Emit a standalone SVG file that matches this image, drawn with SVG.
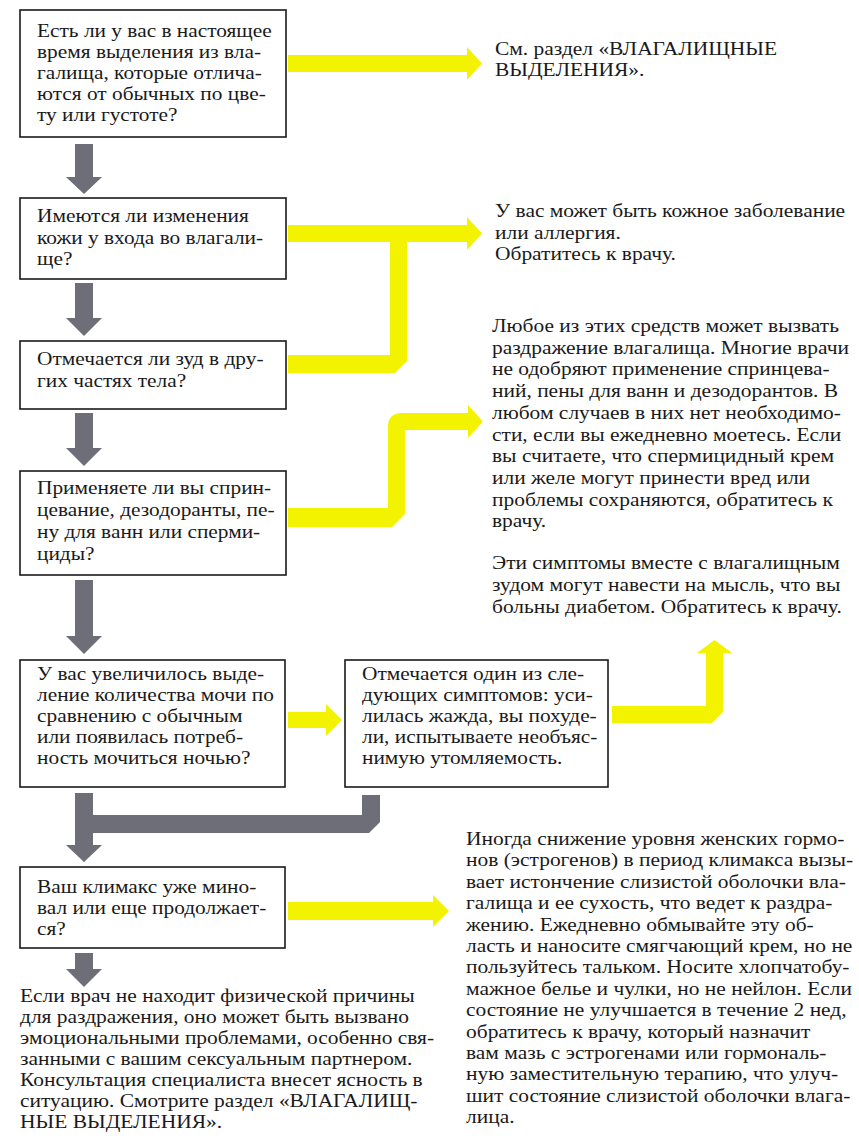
<svg xmlns="http://www.w3.org/2000/svg" width="859" height="1148" viewBox="0 0 859 1148" font-family="Times New Roman, Liberation Serif, serif" font-size="18.5">
<style>
.box{fill:#fff;stroke:#1a1a1a;stroke-width:1.6}
.y{fill:#f3f300}
.g{fill:#6e6e79}
text{fill:#1a1a1a;font-family:"Times New Roman","Liberation Serif",serif}
</style>
<rect width="859" height="1148" fill="#fff"/>
<g id="connectors">
<path class="y" d="M288,55 H467 V47 L482,63.5 L467,80 V72 H288 Z"/>
<path class="y" d="M288,225 H467 V217 L482,233.5 L467,250 V242 H288 Z"/>
<path class="y" d="M288,355 H390 V242 H407 V361 L395,373 H288 Z"/>
<path class="y" d="M288,508 H388 V427 Q388,413 402,413 H468 V405 L483,421.5 L468,438 V430 H405 V514 L392,527 H288 Z"/>
<path class="y" d="M288,712 H326 V704 L342,720 L326,736 V728 H288 Z"/>
<path class="y" d="M612,706 H706 V653 H697 L714.5,640 L732,653 H723 V712 L712,723 H612 Z"/>
<path class="y" d="M288,902 H433 V895 L449,911 L433,927 V920 H288 Z"/>
<path class="g" d="M75,144 H93 V177 H102 L84,194 L66,177 H75 Z"/>
<path class="g" d="M75,283 H93 V318 H102 L84,336 L66,318 H75 Z"/>
<path class="g" d="M75,413 H93 V448 H102 L84,466 L66,448 H75 Z"/>
<path class="g" d="M75,580 H93 V636 H102 L84,654 L66,636 H75 Z"/>
<path class="g" d="M75,793 H93 V845 H102 L84,862 L66,845 H75 Z"/>
<path class="g" d="M93,815 H362 V795 H380 V822 L369,833 H93 Z"/>
<path class="g" d="M75,953 H93 V969 H102 L84,987 L66,969 H75 Z"/>
</g>
<g id="q1">
<rect class="box" x="20" y="10" width="266" height="127"/>
<text transform="translate(37 37) scale(1.155 1)">Есть ли у вас в настоящее</text>
<text transform="translate(37 58) scale(1.155 1)">время выделения из вла-</text>
<text transform="translate(37 79) scale(1.155 1)">галища, которые отлича-</text>
<text transform="translate(37 100) scale(1.155 1)">ются от обычных по цве-</text>
<text transform="translate(37 121) scale(1.155 1)">ту или густоте?</text>
</g>
<g id="a1">
<text transform="translate(495 55) scale(1.16 1)">См. раздел «ВЛАГАЛИЩНЫЕ</text>
<text transform="translate(495 76) scale(1.16 1)">ВЫДЕЛЕНИЯ».</text>
</g>
<g id="q2">
<rect class="box" x="20" y="198" width="266" height="81"/>
<text transform="translate(37 222) scale(1.155 1)">Имеются ли изменения</text>
<text transform="translate(37 243.5) scale(1.155 1)">кожи у входа во влагали-</text>
<text transform="translate(37 265) scale(1.155 1)">ще?</text>
</g>
<g id="a2">
<text transform="translate(495 217) scale(1.16 1)">У вас может быть кожное заболевание</text>
<text transform="translate(495 238.5) scale(1.16 1)">или аллергия.</text>
<text transform="translate(495 260) scale(1.16 1)">Обратитесь к врачу.</text>
</g>
<g id="q3">
<rect class="box" x="20" y="341" width="266" height="68"/>
<text transform="translate(37 365) scale(1.155 1)">Отмечается ли зуд в дру-</text>
<text transform="translate(37 387) scale(1.155 1)">гих частях тела?</text>
</g>
<g id="a3">
<text transform="translate(492 332) scale(1.16 1)">Любое из этих средств может вызвать</text>
<text transform="translate(492 353.7) scale(1.16 1)">раздражение влагалища. Многие врачи</text>
<text transform="translate(492 375.4) scale(1.16 1)">не одобряют применение спринцева-</text>
<text transform="translate(492 397.1) scale(1.16 1)">ний, пены для ванн и дезодорантов. В</text>
<text transform="translate(492 418.8) scale(1.16 1)">любом случаев в них нет необходимо-</text>
<text transform="translate(492 440.5) scale(1.16 1)">сти, если вы ежедневно моетесь. Если</text>
<text transform="translate(492 462.2) scale(1.16 1)">вы считаете, что спермицидный крем</text>
<text transform="translate(492 483.9) scale(1.16 1)">или желе могут принести вред или</text>
<text transform="translate(492 505.6) scale(1.16 1)">проблемы сохраняются, обратитесь к</text>
<text transform="translate(492 527.3) scale(1.16 1)">врачу.</text>
</g>
<g id="q4">
<rect class="box" x="20" y="471" width="266" height="104"/>
<text transform="translate(37 494) scale(1.155 1)">Применяете ли вы сприн-</text>
<text transform="translate(37 516) scale(1.155 1)">цевание, дезодоранты, пе-</text>
<text transform="translate(37 538) scale(1.155 1)">ну для ванн или сперми-</text>
<text transform="translate(37 560) scale(1.155 1)">циды?</text>
</g>
<g id="a4">
<text transform="translate(492 569) scale(1.16 1)">Эти симптомы вместе с влагалищным</text>
<text transform="translate(492 591) scale(1.16 1)">зудом могут навести на мысль, что вы</text>
<text transform="translate(492 613) scale(1.16 1)">больны диабетом. Обратитесь к врачу.</text>
</g>
<g id="q5">
<rect class="box" x="20" y="660" width="265" height="127"/>
<text transform="translate(37 680) scale(1.155 1)">У вас увеличилось выде-</text>
<text transform="translate(37 701) scale(1.155 1)">ление количества мочи по</text>
<text transform="translate(37 722) scale(1.155 1)">сравнению с обычным</text>
<text transform="translate(37 743) scale(1.155 1)">или появилась потреб-</text>
<text transform="translate(37 764) scale(1.155 1)">ность мочиться ночью?</text>
</g>
<g id="q6">
<rect class="box" x="345" y="660" width="263" height="127"/>
<text transform="translate(362 680) scale(1.155 1)">Отмечается один из сле-</text>
<text transform="translate(362 701) scale(1.155 1)">дующих симптомов: уси-</text>
<text transform="translate(362 722) scale(1.155 1)">лилась жажда, вы похуде-</text>
<text transform="translate(362 743) scale(1.155 1)">ли, испытываете необъяс-</text>
<text transform="translate(362 764) scale(1.155 1)">нимую утомляемость.</text>
</g>
<g id="q7">
<rect class="box" x="20" y="867" width="265" height="81"/>
<text transform="translate(37 893) scale(1.155 1)">Ваш климакс уже мино-</text>
<text transform="translate(37 914) scale(1.155 1)">вал или еще продолжает-</text>
<text transform="translate(37 935) scale(1.155 1)">ся?</text>
</g>
<g id="a7">
<text transform="translate(466 845) scale(1.16 1)">Иногда снижение уровня женских гормо-</text>
<text transform="translate(466 866.4) scale(1.16 1)">нов (эстрогенов) в период климакса вызы-</text>
<text transform="translate(466 887.8) scale(1.16 1)">вает истончение слизистой оболочки вла-</text>
<text transform="translate(466 909.2) scale(1.16 1)">галища и ее сухость, что ведет к раздра-</text>
<text transform="translate(466 930.6) scale(1.16 1)">жению. Ежедневно обмывайте эту об-</text>
<text transform="translate(466 952) scale(1.16 1)">ласть и наносите смягчающий крем, но не</text>
<text transform="translate(466 973.4) scale(1.16 1)">пользуйтесь тальком. Носите хлопчатобу-</text>
<text transform="translate(466 994.8) scale(1.16 1)">мажное белье и чулки, но не нейлон. Если</text>
<text transform="translate(466 1016.2) scale(1.16 1)">состояние не улучшается в течение 2 нед,</text>
<text transform="translate(466 1037.6) scale(1.16 1)">обратитесь к врачу, который назначит</text>
<text transform="translate(466 1059) scale(1.16 1)">вам мазь с эстрогенами или гормональ-</text>
<text transform="translate(466 1080.4) scale(1.16 1)">ную заместительную терапию, что улуч-</text>
<text transform="translate(466 1101.8) scale(1.16 1)">шит состояние слизистой оболочки влага-</text>
<text transform="translate(466 1123.2) scale(1.16 1)">лица.</text>
</g>
<g id="end">
<text transform="translate(20 1002) scale(1.16 1)">Если врач не находит физической причины</text>
<text transform="translate(20 1023) scale(1.16 1)">для раздражения, оно может быть вызвано</text>
<text transform="translate(20 1044) scale(1.16 1)">эмоциональными проблемами, особенно свя-</text>
<text transform="translate(20 1065) scale(1.16 1)">занными с вашим сексуальным партнером.</text>
<text transform="translate(20 1086) scale(1.16 1)">Консультация специалиста внесет ясность в</text>
<text transform="translate(20 1107) scale(1.16 1)">ситуацию. Смотрите раздел «ВЛАГАЛИЩ-</text>
<text transform="translate(20 1128) scale(1.16 1)">НЫЕ ВЫДЕЛЕНИЯ».</text>
</g>
</svg>
